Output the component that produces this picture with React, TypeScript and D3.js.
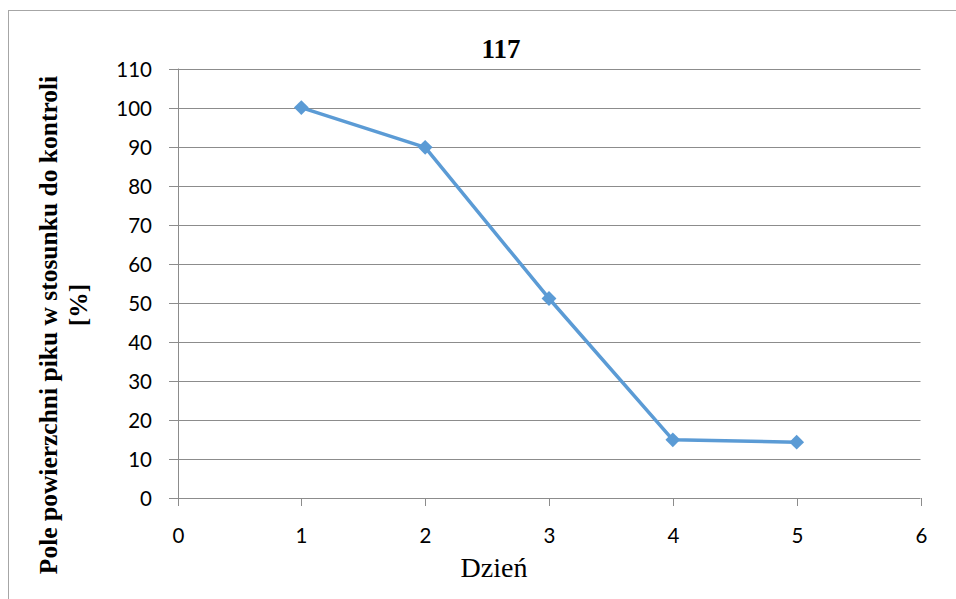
import { useRef, useEffect } from 'react';
import * as d3 from 'd3';

const days = [1, 2, 3, 4, 5];
const values = [100, 89.8, 51.1, 14.9, 14.3];
const xTicks = [0, 1, 2, 3, 4, 5, 6];
const yTicks = [0, 10, 20, 30, 40, 50, 60, 70, 80, 90, 100, 110];
const title = '117';
const xLabel = 'Dzień';
const yLabelLines = ['Pole powierzchni piku w stosunku do kontroli', '[%]'];

const W = 956;
const H = 599;

export default function App() {
  const svgRef = useRef<SVGSVGElement>(null);

  useEffect(() => {
    const svg = d3.select(svgRef.current);
    svg.selectAll('*').remove();

    const x = d3.scaleLinear().domain([0, 6]).range([177.5, 920.5]);
    const y = d3.scaleLinear().domain([0, 110]).range([498, 68.5]);
    const grid = '#8c8c8c';

    // chart frame
    svg.append('rect')
      .attr('x', 8.5).attr('y', 10.5)
      .attr('width', W + 20).attr('height', H + 20)
      .attr('fill', 'white')
      .attr('stroke', '#a6a6a6')
      .attr('stroke-width', 1);

    // horizontal gridlines + y ticks
    for (const t of yTicks) {
      const yy = Math.round(y(t)) + 0.5;
      svg.append('line')
        .attr('x1', 169).attr('x2', x(6))
        .attr('y1', yy).attr('y2', yy)
        .attr('stroke', grid).attr('stroke-width', 1);
      svg.append('text')
        .attr('x', 152).attr('y', yy)
        .attr('dy', '0.36em')
        .attr('text-anchor', 'end')
        .attr('font-family', 'Lato, sans-serif')
        .attr('font-size', '20.5px')
        .attr('fill', '#000')
        .text(t);
    }

    // y axis line
    svg.append('line')
      .attr('x1', Math.round(x(0)) + 0.5).attr('x2', Math.round(x(0)) + 0.5)
      .attr('y1', y(110)).attr('y2', y(0))
      .attr('stroke', grid).attr('stroke-width', 1);

    // x ticks
    for (const t of xTicks) {
      const xx = Math.round(x(t)) + 0.5;
      svg.append('line')
        .attr('x1', xx).attr('x2', xx)
        .attr('y1', y(0)).attr('y2', y(0) + 8)
        .attr('stroke', grid).attr('stroke-width', 1);
      svg.append('text')
        .attr('x', xx).attr('y', 543)
        .attr('text-anchor', 'middle')
        .attr('font-family', 'Lato, sans-serif')
        .attr('font-size', '20.5px')
        .attr('fill', '#000')
        .text(t);
    }

    // series line
    const pts = days.map((d, i) => [d, values[i]] as [number, number]);
    const line = d3.line<[number, number]>()
      .x((d) => x(d[0]))
      .y((d) => y(d[1]));
    svg.append('path')
      .datum(pts)
      .attr('d', line)
      .attr('fill', 'none')
      .attr('stroke', '#5b9bd5')
      .attr('stroke-width', 3.5)
      .attr('stroke-linejoin', 'round');

    svg.selectAll('path.marker')
      .data(pts)
      .enter()
      .append('path')
      .attr('class', 'marker')
      .attr('d', d3.symbol(d3.symbolDiamond2, 140)() ?? '')
      .attr('transform', (d) => `translate(${x(d[0])},${y(d[1])})`)
      .attr('fill', '#5b9bd5');

    // title
    svg.append('text')
      .attr('x', 501).attr('y', 58)
      .attr('text-anchor', 'middle')
      .attr('font-family', "'Liberation Serif', serif")
      .attr('font-weight', 'bold')
      .attr('font-size', '27px')
      .text(title);

    // x label
    svg.append('text')
      .attr('x', 494).attr('y', 577)
      .attr('text-anchor', 'middle')
      .attr('font-family', "'Liberation Serif', serif")
      .attr('font-size', '28px')
      .text(xLabel);

    // y label (two lines, rotated)
    const centers = [325, 305];
    yLabelLines.forEach((s, i) => {
      svg.append('text')
        .attr('transform', `translate(${57 + i * 30},${centers[i]}) rotate(-90)`)
        .attr('text-anchor', 'middle')
        .attr('font-family', "'Liberation Serif', serif")
        .attr('font-weight', 'bold')
        .attr('font-size', '25.5px')
        .text(s);
    });
  }, []);

  return (
    <svg
      ref={svgRef}
      width={W}
      height={H}
      viewBox={`0 0 ${W} ${H}`}
      style={{ position: 'absolute', left: 0, top: 0, display: 'block', background: 'white' }}
    />
  );
}
